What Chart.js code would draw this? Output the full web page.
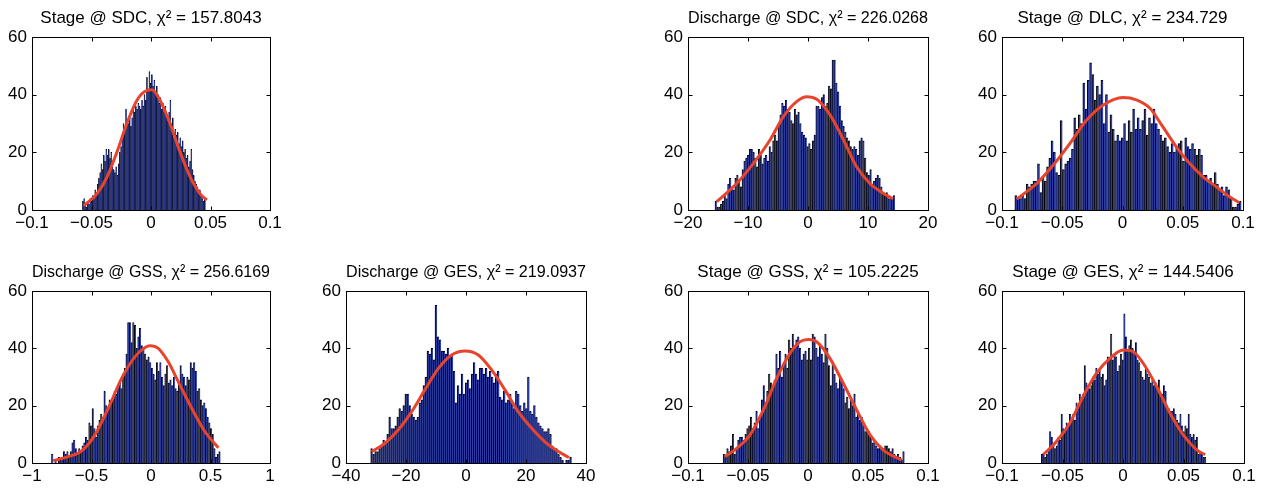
<!DOCTYPE html>
<html>
<head>
<meta charset="utf-8">
<script src="https://cdn.jsdelivr.net/npm/chart.js@4.4.1/dist/chart.umd.min.js"></script>
<style>
  html, body { margin: 0; padding: 0; background: #fff; overflow: hidden; }
  body { width: 1261px; height: 490px; position: relative; }
  canvas { position: absolute; }
</style>
</head>
<body>
<script>
// histogram counts, 100 bins each
var stageSdcCounts = [3,4,2,1,3,2,4,3,5,4,7,6,9,11,13,16,14,19,17,21,19,21,18,20,15,14,13,15,12,16,
  20,22,26,30,28,35,31,30,33,29,32,35,34,36,35,37,36,35,38,36,40,38,46,42,48,44,47,43,45,41,
  43,40,37,39,35,37,34,36,33,31,34,38,30,32,25,28,26,27,23,25,22,24,20,21,18,19,15,17,21,14,
  12,10,9,8,7,7,5,4,3,4];
var dischargeSdcCounts = [3,1,1,2,3,5,4,9,11,8,7,11,12,10,8,14,17,18,19,21,21,20,18,15,21,19,16,18,19,17,
  22,20,24,26,24,30,33,37,36,38,35,34,31,30,35,33,34,30,27,26,25,22,23,21,24,26,36,36,35,39,
  40,36,37,43,42,52,52,44,41,36,31,29,27,25,24,22,21,22,21,19,24,25,24,18,13,12,14,9,10,11,
  12,11,8,6,5,6,4,4,4,5];
var stageDlcCounts = [5,4,4,5,4,9,8,9,10,10,16,6,11,10,15,18,24,20,13,12,31,14,16,17,18,21,32,28,33,30,
  44,35,45,51,47,38,43,40,45,30,40,27,33,28,24,26,24,25,30,24,31,27,35,28,32,28,31,35,26,32,
  30,35,30,28,26,24,25,22,20,23,20,22,23,24,17,25,22,21,23,21,19,21,19,12,12,10,11,9,13,9,
  7,8,5,8,7,4,1,1,2,3];
var dischargeGssCounts = [3,0,1,0,2,1,2,4,3,4,2,4,7,8,5,3,5,4,6,7,9,8,14,13,19,12,9,13,15,17,
  16,25,20,18,22,21,23,25,24,27,28,26,31,33,38,49,49,42,49,48,40,44,47,41,40,38,36,37,35,33,
  31,29,35,32,35,30,27,31,34,28,29,27,30,26,25,28,34,31,30,27,30,29,35,33,35,32,25,26,22,20,
  21,19,16,14,12,10,5,2,3,4];
var dischargeGesCounts = [5,3,4,4,5,6,8,7,10,16,12,12,13,16,19,18,20,24,24,20,17,16,15,16,21,22,27,30,39,38,
  40,36,55,44,43,39,39,38,40,37,38,32,21,27,24,31,24,28,29,26,31,35,31,29,33,33,31,33,30,32,
  30,28,31,32,23,22,25,21,22,24,21,19,25,24,20,18,21,19,30,18,17,20,16,14,13,12,11,11,12,10,
  6,5,5,3,2,1,0,1,1,2];
var stageGssCounts = [3,2,5,4,6,10,3,5,8,9,9,8,10,12,13,16,12,14,18,12,16,22,27,21,25,31,28,26,29,38,
  33,39,30,35,38,33,43,40,45,41,43,44,40,36,38,39,36,40,36,45,44,40,37,41,38,35,45,40,34,27,
  35,31,28,26,30,29,26,21,23,19,23,20,24,16,17,15,16,13,11,12,11,9,7,8,6,5,6,5,5,6,
  6,5,4,5,3,2,3,2,1,4];
var stageGesCounts = [3,3,2,3,4,11,9,7,5,6,9,8,17,12,11,14,13,17,15,17,15,21,19,24,22,24,34,28,27,26,
  27,30,29,33,31,33,30,31,27,29,37,36,45,36,38,37,32,34,38,36,52,44,39,41,43,40,38,42,36,35,
  32,30,29,33,31,30,28,29,27,28,26,29,23,24,27,25,20,19,18,18,19,17,15,14,17,13,11,13,12,17,
  10,9,10,8,9,3,4,3,2,2];

// first bin centre and bin width of each histogram
var binStart = [-0.0571, -15.35, -0.0884, -0.829, -31.43, -0.0700, -0.0669];
var binWidth = [0.001035, 0.3, 0.00188, 0.0142, 0.67, 0.001512, 0.001363];

// fitted normal curves
var stageSdcFitX = [-0.0566,-0.0455,-0.037,-0.0287,-0.0203,-0.0119,-0.0035,0.0007,0.0077,0.016,0.0245,0.033,0.0413,0.047];
var stageSdcFitY = [1.5,5.6,11.4,20,30,38,41.5,41.7,38,30,20,11.4,5.6,3.5];
var dischargeSdcFitX = [-15.2,-11.9,-9.1,-6.33,-4.1,-1.9,-0.2,1.45,3.1,4.8,6.45,8.1,10.33,12.55,14.2];
var dischargeSdcFitY = [2.9,9.2,16.2,24.3,32.4,37.6,39.3,38.4,34.7,28.9,22,15,9.2,5.8,3.8];
var stageDlcFitX = [-0.0878,-0.0712,-0.0574,-0.0436,-0.0297,-0.0159,0.0004,0.0115,0.0228,0.0334,0.0445,0.0556,0.0666,0.0777,0.0888,0.097];
var stageDlcFitY = [3.8,9.2,15.6,23.1,31.2,36.4,39,38.2,35.3,28.9,22,16.2,11.6,8.1,4.6,2.5];
var dischargeGssFitX = [-0.821,-0.695,-0.583,-0.471,-0.359,-0.247,-0.134,-0.05,-0.008,0.061,0.145,0.229,0.342,0.454,0.566];
var dischargeGssFitY = [0.8,2.2,4.2,9.8,19.1,29.5,37.1,40.3,40.9,40,35.3,28.4,19.1,10.9,5.3];
var dischargeGesFitX = [-31.4,-27,-22.6,-18.1,-13.7,-9.2,-4.8,-0.33,4.1,8.6,13,17.4,21.9,26.3,30.8,34.3];
var dischargeGesFitY = [4,6.9,11.5,17.9,25.5,33,37.7,39.1,37.7,32.4,25.5,17.9,12.1,7.4,4,1.9];
var stageGssFitX = [-0.0692,-0.0594,-0.0483,-0.0372,-0.0261,-0.015,-0.0067,0.0003,0.0072,0.0183,0.0294,0.0406,0.0517,0.0628,0.0781];
var stageGssFitY = [2.2,5.1,9.8,18.5,29.5,38.3,42.3,43.1,42.3,36.5,27.8,18.5,9.8,4.5,1];
var stageGesFitX = [-0.066,-0.055,-0.044,-0.033,-0.022,-0.0108,0.0002,0.0085,0.0167,0.0278,0.0388,0.0498,0.0609,0.0678];
var stageGesFitY = [2.9,7.5,13.9,23.2,31.3,36.5,39.4,38.8,34.8,26.7,17.4,9.8,4.6,2.9];

var titles = [
  'Stage @ SDC, χ² = 157.8043',
  'Discharge @ SDC, χ² = 226.0268',
  'Stage @ DLC, χ² = 234.729',
  'Discharge @ GSS, χ² = 256.6169',
  'Discharge @ GES, χ² = 219.0937',
  'Stage @ GSS, χ² = 105.2225',
  'Stage @ GES, χ² = 144.5406'
];
var xLimits = [[-0.1, 0.1], [-20, 20], [-0.1, 0.1], [-1, 1], [-40, 40], [-0.1, 0.1], [-0.1, 0.1]];
var xSteps = [0.05, 10, 0.05, 0.5, 20, 0.05, 0.05];
var yTicks = [0, 20, 40, 60];

var counts = [stageSdcCounts, dischargeSdcCounts, stageDlcCounts, dischargeGssCounts, dischargeGesCounts, stageGssCounts, stageGesCounts];
var fitX = [stageSdcFitX, dischargeSdcFitX, stageDlcFitX, dischargeGssFitX, dischargeGesFitX, stageGssFitX, stageGesFitX];
var fitY = [stageSdcFitY, dischargeSdcFitY, stageDlcFitY, dischargeGssFitY, dischargeGesFitY, stageGssFitY, stageGesFitY];

// axes boxes on the page: left, top, right, bottom
var boxes = [
  [32, 37, 270, 210], [688, 37, 928, 210], [1002, 37, 1243, 210],
  [32, 291, 270, 463], [346, 291, 586, 463], [688, 291, 928, 463], [1002, 291, 1244, 463]
];

var FONT = "'Liberation Sans', Arial, Helvetica, sans-serif";
var MARGIN = 40, TOP = 37, BOTTOM = 27;

// matlab style box with inward ticks
var boxAxes = {
  id: 'boxAxes',
  afterDraw: function(chart) {
    var ctx = chart.ctx, a = chart.chartArea, sx = chart.scales.x, sy = chart.scales.y;
    var L = Math.round(a.left) + 0.5, R = Math.round(a.right) + 0.5;
    var T = Math.round(a.top) + 0.5, B = Math.round(a.bottom) + 0.5;
    ctx.save();
    ctx.strokeStyle = '#000';
    ctx.lineWidth = 1;
    ctx.beginPath();
    sx.ticks.forEach(function(t) {
      var px = Math.round(sx.getPixelForValue(t.value)) + 0.5;
      ctx.moveTo(px, B); ctx.lineTo(px, B - 4);
      ctx.moveTo(px, T); ctx.lineTo(px, T + 4);
    });
    sy.ticks.forEach(function(t) {
      var py = Math.round(sy.getPixelForValue(t.value)) + 0.5;
      ctx.moveTo(L, py); ctx.lineTo(L + 4, py);
      ctx.moveTo(R, py); ctx.lineTo(R - 4, py);
    });
    ctx.stroke();
    ctx.strokeRect(L, T, R - L, B - T);
    ctx.restore();
  }
};

function fmt(v) {
  var s = String(Math.round(v * 1e6) / 1e6);
  return s.replace('-', '\u2212');
}

function makeHist(k) {
  var b = boxes[k];
  var cv = document.createElement('canvas');
  var w = b[2] - b[0] + 2 * MARGIN, h = b[3] - b[1] + TOP + BOTTOM;
  cv.width = w; cv.height = h;
  cv.style.left = (b[0] - MARGIN) + 'px';
  cv.style.top = (b[1] - TOP) + 'px';
  document.body.appendChild(cv);

  var bars = counts[k].map(function(c, i) {
    return { x: binStart[k] + i * binWidth[k], y: c };
  });
  var curve = fitX[k].map(function(x, i) { return { x: x, y: fitY[k][i] }; });

  new Chart(cv.getContext('2d'), {
    type: 'bar',
    data: {
      datasets: [{
        type: 'line',
        data: curve,
        borderColor: '#e8432d',
        borderWidth: 3,
        pointRadius: 0,
        tension: 0.4,
        cubicInterpolationMode: 'monotone',
        order: 0
      }, {
        type: 'bar',
        data: bars,
        backgroundColor: '#2d3da4',
        borderColor: '#000',
        borderWidth: { left: 1, right: 0, top: 1, bottom: 0 },
        borderSkipped: false,
        barPercentage: 1,
        categoryPercentage: 1,
        order: 1
      }]
    },
    options: {
      responsive: false,
      animation: false,
      layout: { padding: { left: 0, right: MARGIN, top: 0, bottom: 0 } },
      plugins: {
        legend: { display: false },
        tooltip: { enabled: false },
        title: {
          display: true,
          fullSize: false,
          text: titles[k],
          color: '#000',
          font: { family: FONT, size: 17, weight: 'normal', lineHeight: 1.2 },
          padding: { top: 8, bottom: 8.6 }
        }
      },
      scales: {
        x: {
          type: 'linear',
          offset: false,
          min: xLimits[k][0],
          max: xLimits[k][1],
          grid: { display: false, drawTicks: false },
          border: { display: false },
          ticks: {
            stepSize: xSteps[k],
            autoSkip: false,
            maxRotation: 0,
            padding: 3,
            color: '#000',
            font: { family: FONT, size: 17 },
            callback: fmt
          },
          afterFit: function(s) { s.height = BOTTOM; s.paddingLeft = 0; s.paddingRight = 0; }
        },
        y: {
          min: 0,
          max: 60,
          grid: { display: false, drawTicks: false },
          border: { display: false },
          afterBuildTicks: function(s) { s.ticks = yTicks.map(function(v) { return { value: v }; }); },
          ticks: {
            padding: 5,
            color: '#000',
            font: { family: FONT, size: 17 },
            callback: fmt
          },
          afterFit: function(s) { s.width = MARGIN; s.paddingTop = 0; s.paddingBottom = 0; }
        }
      }
    },
    plugins: [boxAxes]
  });
}

for (var k = 0; k < boxes.length; k++) makeHist(k);
</script>
</body>
</html>
